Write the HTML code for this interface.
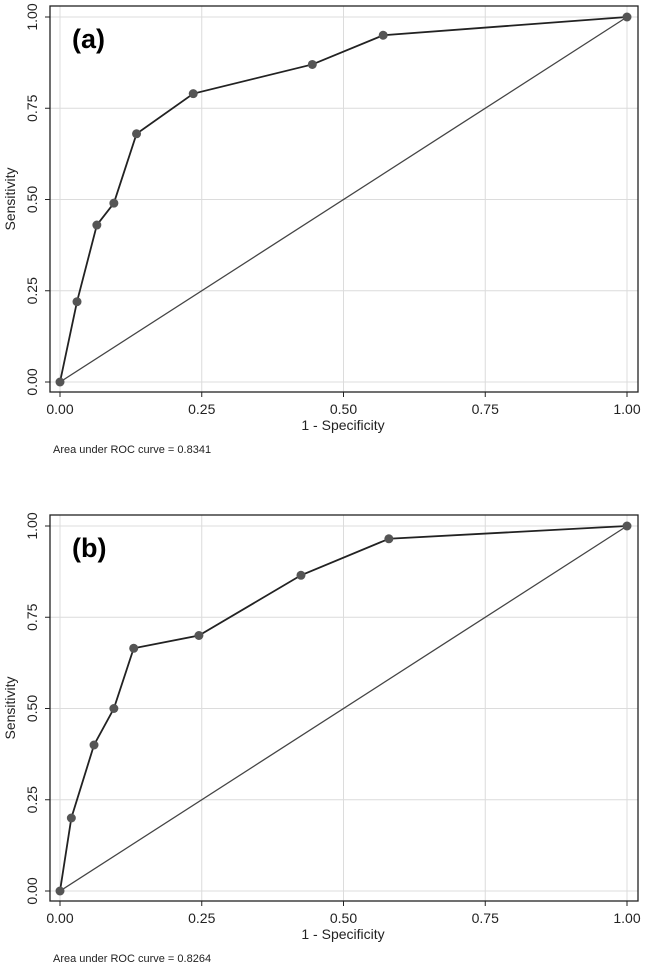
<!DOCTYPE html>
<html><head><meta charset="utf-8"><style>body{margin:0;background:#fff}svg{display:block;font-family:"Liberation Sans",sans-serif}</style></head>
<body>
<svg id="c" width="645" height="968"></svg>
<script>
const panelLabels = ["(a)", "(b)"];
const aucLabels = ["Area under ROC curve = 0.8341", "Area under ROC curve = 0.8264"];
const fprA = [0, 0.03, 0.065, 0.095, 0.135, 0.235, 0.445, 0.57, 1];
const tprA = [0, 0.22, 0.43, 0.49, 0.68, 0.79, 0.87, 0.95, 1];
const fprB = [0, 0.02, 0.06, 0.095, 0.13, 0.245, 0.425, 0.58, 1];
const tprB = [0, 0.20, 0.40, 0.50, 0.665, 0.70, 0.865, 0.965, 1];
const ticks = [0, 0.25, 0.5, 0.75, 1];
const tickLabels = ["0.00", "0.25", "0.50", "0.75", "1.00"];

const NS = "http://www.w3.org/2000/svg";
const svg = document.getElementById("c");
function mk(tag, attrs, parent, text) {
  const e = document.createElementNS(NS, tag);
  for (const k in attrs) e.setAttribute(k, attrs[k]);
  if (text !== undefined) e.textContent = text;
  (parent || svg).appendChild(e);
  return e;
}
function panel(idx, off, fpr, tpr) {
  const g = mk("g", {});
  
  
  const X = v => 60 + v * 567;
  const Y = v => off + 382 - v * 365;
  // grid
  ticks.forEach(t => {
    const gx = mk("line", {x1: X(t), x2: X(t), y1: off + 6, y2: off + 392, stroke: "#dcdcdc", "stroke-width": 1}, g);
    
    
    const gy = mk("line", {x1: 50, x2: 638, y1: Y(t), y2: Y(t), stroke: "#dcdcdc", "stroke-width": 1}, g);
    
    
  });
  const fr = mk("rect", {x: 50, y: off + 6, width: 588, height: 386, fill: "none", stroke: "#222", "stroke-width": 1.3}, g);
  
  
  ticks.forEach((t, i) => {
    mk("line", {x1: X(t), x2: X(t), y1: off + 392, y2: off + 397, stroke: "#222"}, g);
    const xl = mk("text", {x: X(t), y: off + 414, "text-anchor": "middle", "font-size": 14, fill: "#222"}, g, tickLabels[i]);
    
    
    mk("line", {x1: 45, x2: 50, y1: Y(t), y2: Y(t), stroke: "#222"}, g);
    const yl = mk("text", {x: 0, y: 0, "text-anchor": "middle", "font-size": 14, fill: "#222", transform: `translate(37,${Y(t)}) rotate(-90)`}, g, tickLabels[i]);
    
    
  });
  const diag = mk("line", {x1: X(0), y1: Y(0), x2: X(1), y2: Y(1), stroke: "#444", "stroke-width": 1.3}, g);
  
  
  const pts = fpr.map((f, i) => X(f) + "," + Y(tpr[i])).join(" ");
  const pl = mk("polyline", {points: pts, fill: "none", stroke: "#222", "stroke-width": 1.8}, g);
  
  
  fpr.forEach((f, i) => {
    const c = mk("circle", {cx: X(f), cy: Y(tpr[i]), r: 4.5, fill: "#555"}, g);
    
    
  });
  const pl2 = mk("text", {x: 72, y: off + 48, "font-size": 27, "font-weight": "bold", fill: "#000"}, g, panelLabels[idx]);
  
  
  const xt = mk("text", {x: 343, y: off + 430, "text-anchor": "middle", "font-size": 14, fill: "#222"}, g, "1 - Specificity");
  
  
  const yt = mk("text", {x: 0, y: 0, "text-anchor": "middle", "font-size": 14, fill: "#222", transform: `translate(15,${off + 199}) rotate(-90)`}, g, "Sensitivity");
  
  
  const au = mk("text", {x: 53, y: off + 453, "font-size": 11, fill: "#222"}, g, aucLabels[idx]);
  
  
}
panel(0, 0, fprA, tprA);
panel(1, 509, fprB, tprB);
</script>
</body></html>
